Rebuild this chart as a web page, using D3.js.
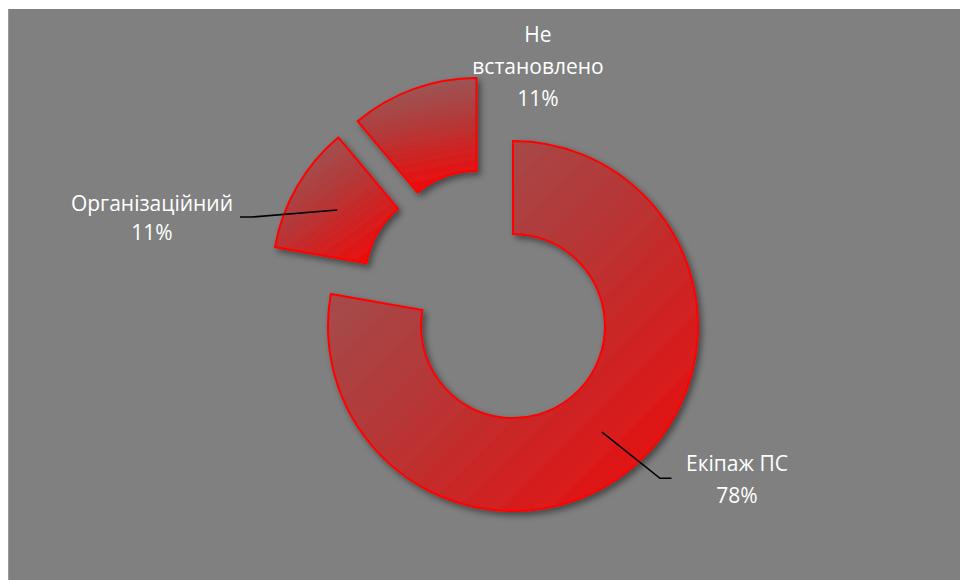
<!DOCTYPE html>
<html>
<head>
<meta charset="utf-8">
<script src="https://cdn.jsdelivr.net/npm/d3@7"></script>
<style>
  body { margin: 0; background: #ffffff; }
  svg { display: block; }
  text { font-family: "Open Sans", Lato, "DejaVu Sans", sans-serif; }
</style>
</head>
<body>
<svg id="chart" width="960" height="580"></svg>
<script>
// Causes of incidents (count of cases)
const categories = ["Екіпаж ПС", "Організаційний", "Не встановлено"];
const counts = [7, 1, 1];
// How each category name is broken into lines in its label
const labelLines = [["Екіпаж ПС"], ["Організаційний"], ["Не", "встановлено"]];

// Layout
const W = 960, H = 580;
const center = [489.2, 297.7];
const innerR = 92, outerR = 185, explode = 37;
// label block: centre x, first baseline, line height
const labelPos = [
  { x: 737, y: 471, lh: 32 },
  { x: 152, y: 210.5, lh: 29 },
  { x: 538, y: 41.7, lh: 32 }
];
// leader elbows (null = no leader)
const leaders = [
  [[660, 478.3], [671.5, 478.3]],
  [[252, 217], [240, 217]],
  null
];
// per-slice gradient direction (bounding box units)
const gradDir = [
  { x1: 0, y1: 0, x2: 1, y2: 1 },
  { x1: 0.15, y1: 0, x2: 0.85, y2: 1 },
  { x1: 0.4, y1: 0, x2: 0.6, y2: 1 }
];

const svg = d3.select("#chart");
const defs = svg.append("defs");

const shadow = defs.append("filter").attr("id", "shadow")
  .attr("x", "-20%").attr("y", "-20%").attr("width", "140%").attr("height", "140%");
shadow.append("feDropShadow").attr("dx", 3).attr("dy", 3.5)
  .attr("stdDeviation", 3).attr("flood-color", "#000").attr("flood-opacity", 0.45);

gradDir.forEach((g, i) => {
  const lg = defs.append("linearGradient").attr("id", "grad" + i)
    .attr("x1", g.x1).attr("y1", g.y1).attr("x2", g.x2).attr("y2", g.y2);
  lg.append("stop").attr("offset", "0%").attr("stop-color", "#975c5c");
  lg.append("stop").attr("offset", "45%").attr("stop-color", "#b43838");
  lg.append("stop").attr("offset", "100%").attr("stop-color", "#f20808");
});

// chart area
svg.append("rect").attr("x", 8).attr("y", 9).attr("width", W - 8).attr("height", H - 9)
  .attr("fill", "#808080");
svg.append("line").attr("x1", 8.5).attr("x2", 8.5).attr("y1", 9).attr("y2", H)
  .attr("stroke", "#9a9a9a").attr("stroke-width", 1);

const total = d3.sum(counts);
const pct = d3.format(".0%");
const pie = d3.pie().sort(null).value(d => d);
const arcs = pie(counts);
const arc = d3.arc().innerRadius(innerR).outerRadius(outerR);

const offset = d => {
  const a = (d.startAngle + d.endAngle) / 2;
  return [center[0] + explode * Math.sin(a), center[1] - explode * Math.cos(a)];
};

const slices = svg.append("g").selectAll("g").data(arcs).join("g")
  .attr("transform", d => `translate(${offset(d)})`);

slices.append("path")
  .attr("d", arc)
  .attr("fill", (d, i) => `url(#grad${i})`)
  .attr("stroke", "#ff0000")
  .attr("stroke-width", 2)
  .attr("stroke-linejoin", "miter")
  .attr("filter", "url(#shadow)");

// leader lines from the slice centroid
arcs.forEach((d, i) => {
  if (!leaders[i]) return;
  const o = offset(d), c = arc.centroid(d);
  const pts = [[o[0] + c[0], o[1] + c[1]], ...leaders[i]];
  svg.append("path")
    .attr("d", d3.line()(pts))
    .attr("fill", "none")
    .attr("stroke", "#000")
    .attr("stroke-width", 1.6);
});

// data labels
arcs.forEach((d, i) => {
  const lines = [...labelLines[i], pct(counts[i] / total)];
  const p = labelPos[i];
  const t = svg.append("text")
    .attr("text-anchor", "middle")
    .attr("fill", "#ffffff")
    .attr("font-size", 21);
  lines.forEach((s, k) => {
    t.append("tspan").attr("x", p.x).attr("y", p.y + k * p.lh).text(s);
  });
});
</script>
</body>
</html>
